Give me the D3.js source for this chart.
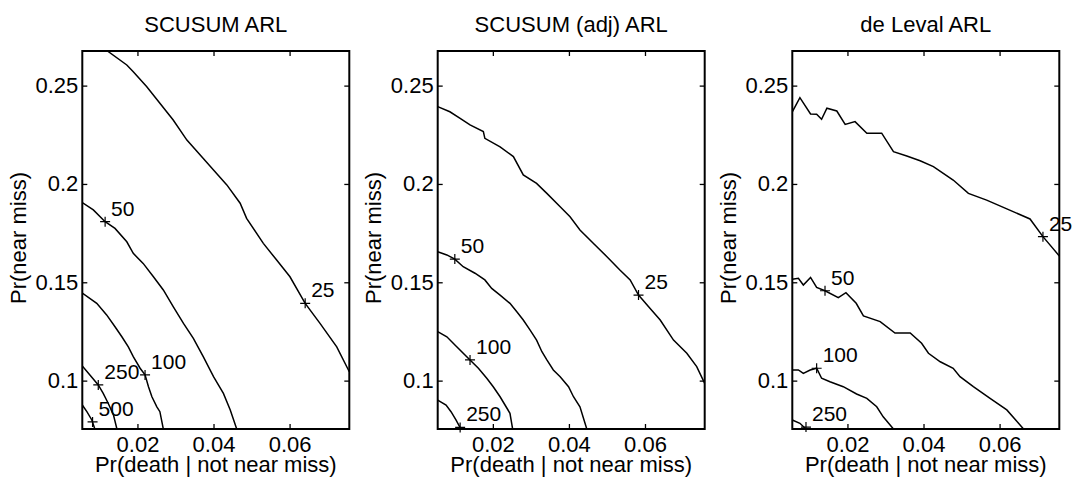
<!DOCTYPE html>
<html>
<head>
<meta charset="utf-8">
<script src="https://cdn.jsdelivr.net/npm/d3@7"></script>
<style>
  body { margin: 0; background: #fff; }
  svg { display: block; font-family: "Liberation Sans", Arial, Helvetica, sans-serif; }
  .tick line { stroke: #000; stroke-width: 1.3; }
  .tick text { font-size: 22px; fill: #000; }
</style>
</head>
<body>
<div id="chart"></div>
<script>
// axis settings
const xDomain = [0.0055, 0.0757];
const yDomain = [0.0754, 0.2676];
const xTicks = [0.02, 0.04, 0.06];
const yTicks = [0.1, 0.15, 0.2, 0.25];
const panelTitles = ["SCUSUM ARL", "SCUSUM (adj) ARL", "de Leval ARL"];
const xTitle = "Pr(death | not near miss)";
const yTitle = "Pr(near miss)";

// SCUSUM ARL contours
const scusum25 = [[0.0121,0.2676],[0.0172,0.2605],[0.0189,0.2571],[0.0224,0.2495],[0.0259,0.2410],[0.0294,0.2325],[0.0330,0.2223],[0.0365,0.2147],[0.0400,0.2071],[0.0435,0.1995],[0.0470,0.1902],[0.0487,0.1825],[0.0531,0.1698],[0.0566,0.1613],[0.0601,0.1528],[0.0641,0.1393],[0.0680,0.1291],[0.0724,0.1172],[0.0757,0.1045]];
const scusum50 = [[0.0055,0.1905],[0.0084,0.1868],[0.0115,0.1808],[0.0141,0.1774],[0.0172,0.1706],[0.0189,0.1647],[0.0215,0.1596],[0.0242,0.1528],[0.0268,0.1461],[0.0294,0.1376],[0.0321,0.1291],[0.0347,0.1215],[0.0373,0.1122],[0.0400,0.1020],[0.0426,0.0935],[0.0444,0.0851],[0.0461,0.0754]];
const scusum100 = [[0.0055,0.1445],[0.0093,0.1393],[0.0119,0.1334],[0.0141,0.1274],[0.0159,0.1223],[0.0176,0.1172],[0.0189,0.1122],[0.0207,0.1063],[0.0220,0.1029],[0.0229,0.0969],[0.0238,0.0918],[0.0251,0.0867],[0.0259,0.0842],[0.0268,0.0754]];
const scusum250 = [[0.0055,0.1074],[0.0075,0.1029],[0.0097,0.0978],[0.0110,0.0935],[0.0123,0.0885],[0.0137,0.0825],[0.0146,0.0754]];
const scusum500 = [[0.0055,0.0876],[0.0067,0.0842],[0.0080,0.0800],[0.0088,0.0754]];
const scusumLabels = [[25,0.0641,0.1393],[50,0.0115,0.1808],[100,0.0220,0.1029],[250,0.0097,0.0978],[500,0.0082,0.0790]];

// SCUSUM (adj) ARL contours
const adj25 = [[0.0055,0.2393],[0.0087,0.2367],[0.0114,0.2334],[0.0140,0.2300],[0.0175,0.2266],[0.0179,0.2232],[0.0219,0.2189],[0.0254,0.2139],[0.0280,0.2046],[0.0315,0.2003],[0.0342,0.1952],[0.0377,0.1884],[0.0403,0.1833],[0.0429,0.1766],[0.0464,0.1698],[0.0500,0.1630],[0.0534,0.1562],[0.0561,0.1512],[0.0583,0.1435],[0.0613,0.1368],[0.0640,0.1308],[0.0675,0.1206],[0.0710,0.1139],[0.0736,0.1071],[0.0757,0.0986]];
const adj50 = [[0.0055,0.1655],[0.0079,0.1639],[0.0100,0.1618],[0.0122,0.1579],[0.0153,0.1546],[0.0179,0.1512],[0.0197,0.1469],[0.0219,0.1435],[0.0245,0.1393],[0.0263,0.1350],[0.0280,0.1308],[0.0298,0.1257],[0.0315,0.1206],[0.0329,0.1147],[0.0342,0.1105],[0.0359,0.1054],[0.0377,0.1020],[0.0399,0.0969],[0.0412,0.0918],[0.0429,0.0867],[0.0447,0.0754]];
const adj100 = [[0.0055,0.1249],[0.0079,0.1223],[0.0105,0.1172],[0.0140,0.1105],[0.0162,0.1063],[0.0184,0.1012],[0.0201,0.0969],[0.0219,0.0918],[0.0232,0.0876],[0.0245,0.0834],[0.0252,0.0754]];
const adj250 = [[0.0055,0.0901],[0.0077,0.0876],[0.0090,0.0842],[0.0103,0.0800],[0.0116,0.0754]];
const adjLabels = [[25,0.0583,0.1435],[50,0.0100,0.1618],[100,0.0140,0.1105],[250,0.0114,0.0762]];

// de Leval ARL contours
const leval25 = [[0.0055,0.2367],[0.0075,0.2439],[0.0103,0.2356],[0.0119,0.2354],[0.0132,0.2329],[0.0146,0.2385],[0.0172,0.2371],[0.0194,0.2303],[0.0220,0.2317],[0.0251,0.2258],[0.0290,0.2258],[0.0321,0.2164],[0.0356,0.2142],[0.0391,0.2118],[0.0426,0.2088],[0.0478,0.2020],[0.0518,0.1952],[0.0566,0.1918],[0.0619,0.1873],[0.0680,0.1822],[0.0714,0.1732],[0.0757,0.1634]];
const leval50 = [[0.0055,0.1515],[0.0071,0.1520],[0.0084,0.1486],[0.0103,0.1525],[0.0119,0.1474],[0.0141,0.1457],[0.0176,0.1422],[0.0196,0.1447],[0.0223,0.1393],[0.0242,0.1329],[0.0286,0.1300],[0.0325,0.1242],[0.0365,0.1242],[0.0395,0.1190],[0.0413,0.1139],[0.0444,0.1096],[0.0478,0.1063],[0.0496,0.1020],[0.0531,0.0969],[0.0575,0.0910],[0.0619,0.0851],[0.0663,0.0754]];
const leval100 = [[0.0055,0.1054],[0.0071,0.1054],[0.0084,0.1037],[0.0102,0.1054],[0.0119,0.1063],[0.0132,0.1012],[0.0154,0.0994],[0.0189,0.0969],[0.0224,0.0932],[0.0251,0.0910],[0.0277,0.0867],[0.0294,0.0816],[0.0321,0.0754]];
const leval250 = [[0.0055,0.0800],[0.0075,0.0783],[0.0091,0.0754]];
const levalLabels = [[25,0.0714,0.1732],[50,0.0141,0.1457],[100,0.0119,0.1063],[250,0.0091,0.0764]];

const panels = [
  {title: panelTitles[0], lines: [scusum25, scusum50, scusum100, scusum250, scusum500], labels: scusumLabels},
  {title: panelTitles[1], lines: [adj25, adj50, adj100, adj250], labels: adjLabels},
  {title: panelTitles[2], lines: [leval25, leval50, leval100, leval250], labels: levalLabels}
];

const W = 1076, H = 479;
const lefts = [82.3, 437.7, 792.3];
const pw = 267, plotTop = 51, plotBottom = 429, ph = plotBottom - plotTop;

const svg = d3.select("#chart").append("svg")
    .attr("width", W)
    .attr("height", H);

const x = d3.scaleLinear().domain(xDomain).range([0, pw]);
const y = d3.scaleLinear().domain(yDomain).range([ph, 0]);
const line = d3.line().x(d => x(d[0])).y(d => y(d[1]));

panels.forEach((p, i) => {
    const g = svg.append("g")
        .attr("transform", `translate(${lefts[i]},${plotTop})`);

    g.append("clipPath").attr("id", "clip" + i)
      .append("rect").attr("width", pw).attr("height", ph);

    // axes, ticks pointing inward
    g.append("g")
     .attr("transform", `translate(0,${ph})`)
     .call(d3.axisBottom(x).tickValues(xTicks).tickSize(-5).tickPadding(7).tickFormat(d => String(d)))
     .call(a => a.select(".domain").remove());
    g.append("g")
     .call(d3.axisLeft(y).tickValues(yTicks).tickSize(-5).tickPadding(4).tickFormat(d => String(d)))
     .call(a => a.select(".domain").remove());
    g.append("g")
     .call(d3.axisTop(x).tickValues(xTicks).tickSize(-5).tickFormat(""))
     .call(a => a.select(".domain").remove());
    g.append("g")
     .attr("transform", `translate(${pw},0)`)
     .call(d3.axisRight(y).tickValues(yTicks).tickSize(-5).tickFormat(""))
     .call(a => a.select(".domain").remove());
    g.selectAll(".tick text").attr("font-family", null).attr("font-size", null);

    g.append("g")
     .attr("clip-path", `url(#clip${i})`)
     .selectAll("path")
     .data(p.lines)
     .enter()
     .append("path")
     .attr("d", line)
     .attr("fill", "none")
     .attr("stroke", "#000")
     .attr("stroke-width", 1.5);

    // contour labels: plus marker + level text
    const lab = g.selectAll(".clabel")
        .data(p.labels)
        .enter()
        .append("g")
        .attr("class", "clabel")
        .attr("transform", d => `translate(${x(d[1])},${y(d[2])})`);
    lab.append("path")
       .attr("d", "M-5,0H5M0,-5V5")
       .attr("stroke", "#000")
       .attr("stroke-width", 1.2);
    lab.append("text")
       .attr("x", 6)
       .attr("y", -6)
       .attr("font-size", 21)
       .text(d => d[0]);

    g.append("rect")
     .attr("width", pw)
     .attr("height", ph)
     .attr("fill", "none")
     .attr("stroke", "#000")
     .attr("stroke-width", 2);

    g.append("text")
     .attr("x", pw / 2)
     .attr("y", 31.5 - plotTop)
     .attr("text-anchor", "middle")
     .attr("font-size", 22)
     .text(p.title);

    g.append("text")
     .attr("x", pw / 2)
     .attr("y", 472 - plotTop)
     .attr("text-anchor", "middle")
     .attr("font-size", 22)
     .text(xTitle);

    g.append("text")
     .attr("transform", `translate(-56.5,${ph / 2 - 2}) rotate(-90)`)
     .attr("text-anchor", "middle")
     .attr("font-size", 22)
     .text(yTitle);
});
</script>
</body>
</html>
